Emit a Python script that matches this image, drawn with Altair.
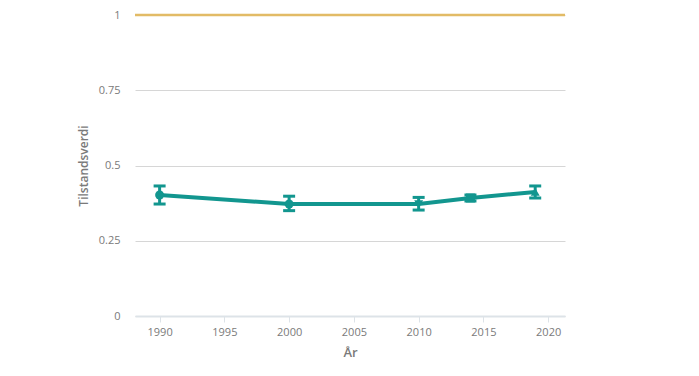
import altair as alt
import pandas as pd

years = [1990, 2000, 2010, 2014, 2019]
values = [0.402, 0.372, 0.372, 0.392, 0.412]
lower = [0.372, 0.350, 0.352, 0.382, 0.392]
upper = [0.432, 0.398, 0.394, 0.402, 0.432]
shapes = ["circle", "circle", "triangle-down", "square", "triangle-up"]
ref_value = [1.0]
y_ticks = [0, 0.25, 0.5, 0.75, 1]
x_ticks = [1990, 1995, 2000, 2005, 2010, 2015, 2020]

df = pd.DataFrame({"year": years, "value": values, "lo": lower, "hi": upper, "shape": shapes})
ref = pd.DataFrame({"v": ref_value})

teal = "#12968f"
grey = "#7a7a7a"
font = "Open Sans"

x = alt.X("year:Q", scale=alt.Scale(domain=[1988.1, 2021.3], nice=False, zero=False),
          axis=alt.Axis(values=x_ticks, format="d", title="År", grid=False,
                        domain=True, domainColor="#dde3e8", domainWidth=2,
                        ticks=True, tickColor="#dde3e8", tickSize=6,
                        labelColor=grey, labelFont=font, labelFontSize=11, labelPadding=4,
                        titleColor=grey, titleFont=font, titleFontSize=13, titleFontWeight=600,
                        titlePadding=9))
y = alt.Y("value:Q", scale=alt.Scale(domain=[0, 1], nice=False),
          axis=alt.Axis(values=y_ticks, labelExpr="datum.value == 0 ? '0' : format(datum.value, '.2~f')",
                        title="Tilstandsverdi", grid=True, gridColor="#d6d6d6", gridWidth=1,
                        domain=False, ticks=False,
                        labelColor=grey, labelFont=font, labelFontSize=11, labelPadding=15,
                        titleColor=grey, titleFont=font, titleFontSize=12, titleFontWeight=600,
                        titlePadding=8))

line = alt.Chart(df).mark_line(color=teal, strokeWidth=4).encode(x=x, y=y)
err = alt.Chart(df).mark_rule(color=teal, strokeWidth=3).encode(
    x="year:Q", y="lo:Q", y2="hi:Q")
cap_lo = alt.Chart(df).mark_tick(color=teal, orient="horizontal", size=12, thickness=3, opacity=1).encode(
    x="year:Q", y="lo:Q")
cap_hi = alt.Chart(df).mark_tick(color=teal, orient="horizontal", size=12, thickness=3, opacity=1).encode(
    x="year:Q", y="hi:Q")
pts = alt.Chart(df).mark_point(filled=True, size=80, opacity=1, color=teal).encode(
    x="year:Q", y="value:Q",
    shape=alt.Shape("shape:N", scale=None, legend=None))
refline = alt.Chart(ref).mark_rule(color="#e2bb66", strokeWidth=2.5).encode(y="v:Q")

chart = alt.layer(refline, line, err, cap_lo, cap_hi, pts).properties(
    width=430, height=301,
    autosize=alt.AutoSizeParams(type="none"),
    padding={"left": 135, "top": 15, "right": 134, "bottom": 60},
    background="white"
).configure_view(stroke=None)

chart.save("out.html", embed_options={"renderer": "svg", "actions": False})
